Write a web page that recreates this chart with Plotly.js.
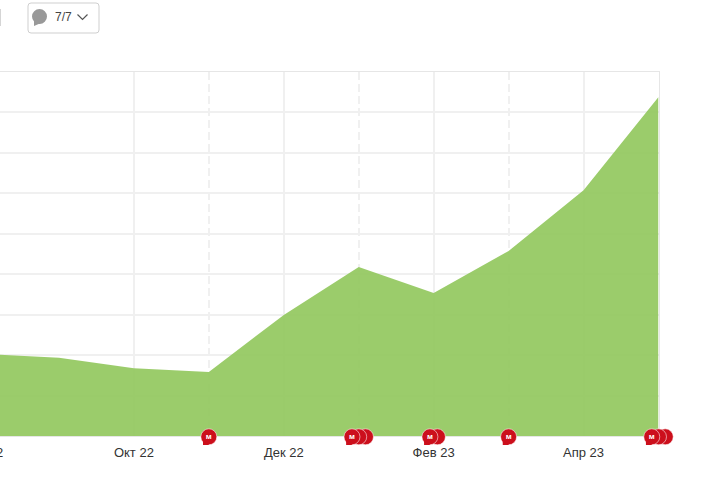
<!DOCTYPE html>
<html>
<head>
<meta charset="utf-8">
<script src="https://cdn.plot.ly/plotly-3.0.1.min.js"></script>
<style>
  html, body { margin: 0; padding: 0; background: #fff; overflow: hidden; }
  /* the chart runs off the left edge of the window, as in the source screenshot */
  #chart { position: absolute; left: -60px; top: 0; width: 780px; height: 480px; }
</style>
</head>
<body>
<div id="chart"></div>
<script>
const monthIndex = [0, 1, 2, 3, 4, 5, 6, 7, 8, 9];
const values = [2.03, 1.93, 1.67, 1.58, 2.99, 4.17, 3.53, 4.57, 6.07, 8.37];

const solidTicks = [0, 2, 4, 6, 8];
const solidLabels = ['Авг 22', 'Окт 22', 'Дек 22', 'Фев 23', 'Апр 23'];
const dashedTicks = [3, 5, 7];

// comment markers, rear ones first so the front one ends up on top
const eventX = [3, 5.09, 5, 4.91, 6.05, 5.95, 7, 9.09, 9, 8.91];
const eventY = [-0.02, -0.02, -0.02, -0.02, -0.02, -0.02, -0.02, -0.02, -0.02, -0.02];
const eventText = ['м', '', '', 'м', '', 'м', 'м', '', '', 'м'];

const counterText = '7/7';

// plot box inside the 780x480 div
const W = 780, H = 480;
const boxLeft = 44, boxRight = 718.5, boxTop = 71.5, boxBottom = 436;
const xUnit = (boxRight - boxLeft) / 9;
const yUnit = (boxBottom - boxTop) / 9;

// window pixels to paper coordinates, only for the button above the chart
const px = x => (x + 60) / W;
const py = y => 1 - y / H;

const gridColor = '#f0f0f0';
const red = '#cc0f1c';

const traces = [
    {
        x: monthIndex,
        y: values,
        type: 'scatter',
        mode: 'lines',
        line: { width: 0 },
        fill: 'tozeroy',
        fillcolor: 'rgba(146, 200, 94, 0.92)',
        hoverinfo: 'skip'
    },
    {
        x: eventX,
        y: eventY,
        xaxis: 'x2',
        yaxis: 'y2',
        type: 'scatter',
        mode: 'markers+text',
        text: eventText,
        textposition: 'middle center',
        textfont: { family: 'Liberation Sans, sans-serif', size: 8, color: '#ffffff', weight: 700 },
        marker: { symbol: 'circle', size: 16, color: red, line: { color: 'rgba(255, 255, 255, 0.55)', width: 1 } },
        hoverinfo: 'skip'
    },
    {
        // bubble tails, drawn over the circle outline
        x: eventX.filter((v, i) => eventText[i]).map(v => v - 0.05),
        y: eventY.filter((v, i) => eventText[i]).map(v => v - 0.15),
        xaxis: 'x2',
        yaxis: 'y2',
        type: 'scatter',
        mode: 'markers',
        marker: { symbol: 'triangle-sw', size: 7, color: red },
        hoverinfo: 'skip'
    }
];

const layout = {
    width: W,
    height: H,
    margin: { l: 0, r: 0, t: 0, b: 0 },
    showlegend: false,
    paper_bgcolor: 'rgba(0,0,0,0)',
    plot_bgcolor: 'rgba(0,0,0,0)',
    font: { family: 'Liberation Sans, Arial, sans-serif', size: 13, color: '#333333' },
    xaxis: {
        domain: [boxLeft / W, boxRight / W],
        range: [0, 9],
        tickmode: 'array',
        tickvals: solidTicks,
        ticktext: solidLabels,
        ticks: '',
        ticklabelstandoff: 4,
        showgrid: true,
        gridcolor: gridColor,
        gridwidth: 2,
        zeroline: false,
        showline: true,
        linecolor: '#e6e6e6',
        linewidth: 1,
        mirror: true,
        tickfont: { size: 13, color: '#333333' },
        minor: {
            tickmode: 'array',
            tickvals: dashedTicks,
            ticks: '',
            showgrid: true,
            gridcolor: gridColor,
            gridwidth: 2,
            griddash: '8px,4px'
        }
    },
    yaxis: {
        domain: [1 - boxBottom / H, 1 - boxTop / H],
        range: [0, 9],
        dtick: 1,
        showgrid: true,
        gridcolor: gridColor,
        gridwidth: 2,
        zeroline: false,
        showticklabels: false,
        ticks: '',
        showline: true,
        linecolor: '#e6e6e6',
        linewidth: 1.5,
        mirror: true
    },
    // same scale as the main axes but covering the whole div, so the markers
    // under the axis line and past the last month are not hidden
    xaxis2: {
        domain: [0, 1],
        range: [-boxLeft / xUnit, (W - boxLeft) / xUnit],
        anchor: 'y2',
        visible: false
    },
    yaxis2: {
        domain: [0, 1],
        range: [-(H - boxBottom) / yUnit, 9 + boxTop / yUnit],
        anchor: 'x2',
        visible: false
    },
    shapes: [
        // button outline
        {
            type: 'path', xref: 'paper', yref: 'paper',
            path: `M ${px(31)} ${py(3)} L ${px(96)} ${py(3)} Q ${px(99)} ${py(3)} ${px(99)} ${py(6)} L ${px(99)} ${py(30)} Q ${px(99)} ${py(33)} ${px(96)} ${py(33)} L ${px(31)} ${py(33)} Q ${px(28)} ${py(33)} ${px(28)} ${py(30)} L ${px(28)} ${py(6)} Q ${px(28)} ${py(3)} ${px(31)} ${py(3)} Z`,
            line: { color: '#cfcfcf', width: 1 },
            fillcolor: '#ffffff'
        },
        // speech bubble icon
        {
            type: 'circle', xref: 'paper', yref: 'paper',
            x0: px(32), x1: px(47), y0: py(9), y1: py(24),
            line: { width: 0 }, fillcolor: '#999999'
        },
        {
            type: 'path', xref: 'paper', yref: 'paper',
            path: `M ${px(34)} ${py(20)} L ${px(34)} ${py(26)} L ${px(41)} ${py(23)} Z`,
            line: { width: 0 }, fillcolor: '#999999'
        },
        // chevron
        {
            type: 'path', xref: 'paper', yref: 'paper',
            path: `M ${px(77.5)} ${py(14.5)} L ${px(82.5)} ${py(19.5)} L ${px(87.5)} ${py(14.5)}`,
            line: { color: '#555555', width: 1.2 }
        },
        // edge of the neighbouring control, cut by the window
        {
            type: 'line', xref: 'paper', yref: 'paper',
            x0: px(0.5), x1: px(0.5), y0: py(9), y1: py(26),
            line: { color: '#d5d5d5', width: 1 }
        }
    ],
    annotations: [
        {
            xref: 'paper', yref: 'paper',
            x: px(53), y: py(17),
            xanchor: 'left', yanchor: 'middle',
            text: counterText,
            showarrow: false,
            font: { size: 12, color: '#444444' }
        }
    ]
};

Plotly.newPlot('chart', traces, layout, { displayModeBar: false, staticPlot: true });
</script>
</body>
</html>
